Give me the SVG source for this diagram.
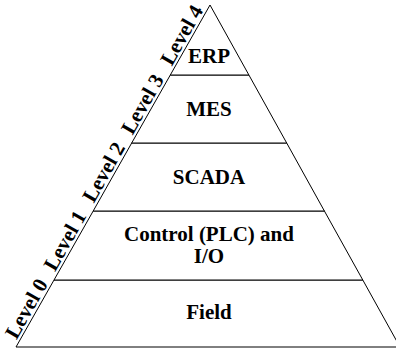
<svg xmlns="http://www.w3.org/2000/svg" width="396" height="349" viewBox="0 0 396 349">
<style>
.layer{fill:#fff;stroke:#000;stroke-width:1}
.t{font-family:"Liberation Serif","Times New Roman",serif;font-weight:bold;font-size:21px;fill:#000;text-anchor:middle}
</style>
<rect width="396" height="349" fill="#fff"/>
<g id="field">
<polygon class="layer" points="54,280 362.8,280 400,347 16,347"/>
<text class="t" x="209" y="319">Field</text>
</g>
<g id="control">
<polygon class="layer" points="93.2,211 324.4,211 362.8,280 54,280"/>
<text class="t" x="209" y="241">Control (PLC) and</text>
<text class="t" x="209" y="263">I/O</text>
</g>
<g id="scada">
<polygon class="layer" points="131.7,143 286.7,143 324.4,211 93.2,211"/>
<text class="t" x="209" y="184">SCADA</text>
</g>
<g id="mes">
<polygon class="layer" points="170.3,75 248.9,75 286.7,143 131.7,143"/>
<text class="t" x="209" y="116">MES</text>
</g>
<g id="erp">
<polygon class="layer" points="210,5 248.9,75 170.3,75"/>
<text class="t" x="209" y="63">ERP</text>
</g>
<g id="levels">
<g id="level0"><text class="t" transform="translate(32.4,312) rotate(-60.43)">Level 0</text></g>
<g id="level1"><text class="t" transform="translate(71,244) rotate(-60.43)">Level 1</text></g>
<g id="level2"><text class="t" transform="translate(109.8,175.5) rotate(-60.43)">Level 2</text></g>
<g id="level3"><text class="t" transform="translate(148.4,107.5) rotate(-60.43)">Level 3</text></g>
<g id="level4"><text class="t" transform="translate(187.6,38.5) rotate(-60.43)">Level 4</text></g>
</g>
</svg>
